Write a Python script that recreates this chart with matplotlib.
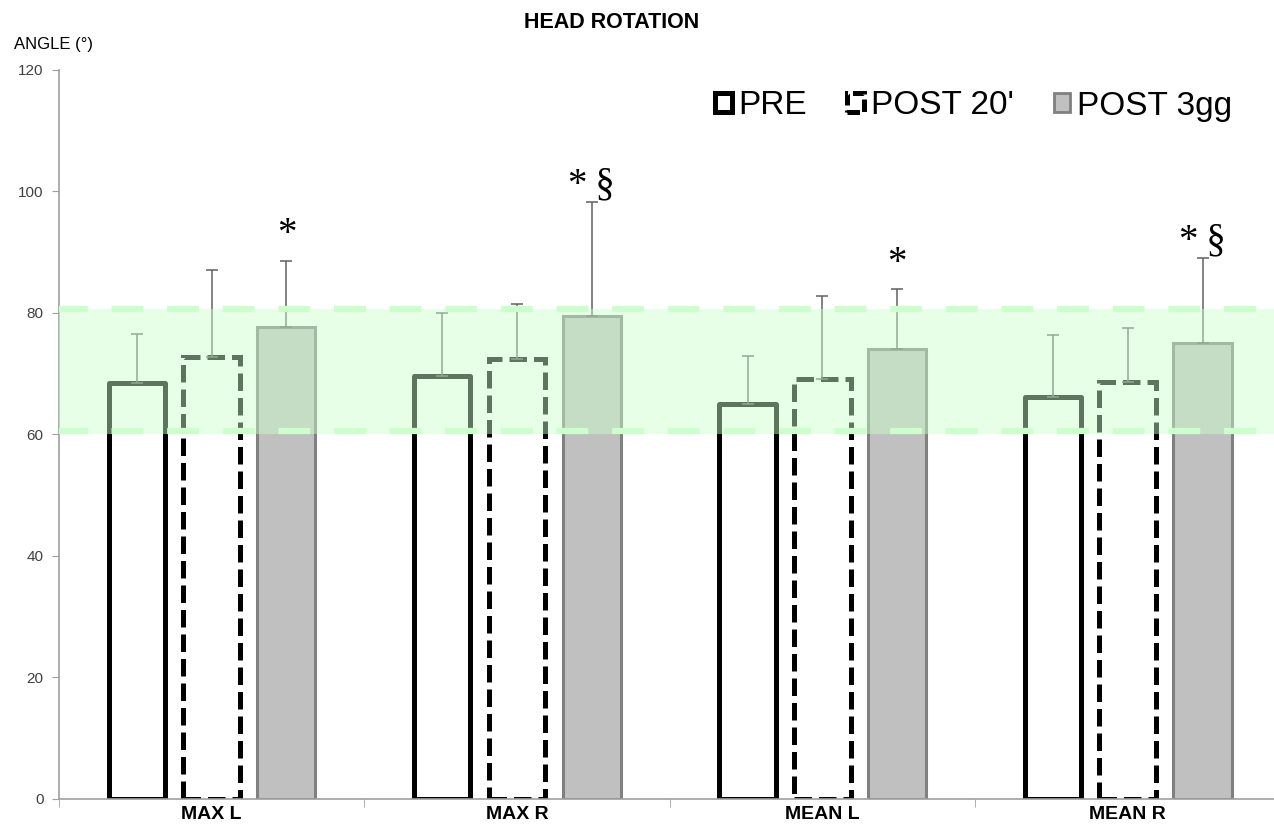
import matplotlib.pyplot as plt
from matplotlib.patches import Patch
import numpy as np

categories = ["MAX L", "MAX R", "MEAN L", "MEAN R"]
pre = [68.5, 69.6, 65.0, 66.1]
post20 = [72.8, 72.4, 69.1, 68.6]
post3gg = [77.7, 79.5, 74.0, 75.0]
pre_err = [8.0, 10.4, 7.9, 10.2]
post20_err = [14.2, 9.1, 13.7, 9.0]
post3gg_err = [10.9, 18.8, 9.9, 14.1]
signif = ["*", "*§", "*", "*§"]
band_lo, band_hi = 60, 80.7

plt.rcParams["font.family"] = ["Liberation Sans", "DejaVu Sans"]

fig = plt.figure(figsize=(12.74, 8.36), dpi=100)
ax = fig.add_axes([0.0463, 0.0443, 0.9587, 0.8720])
x = np.arange(len(categories))
off = 0.245

ax.bar(x - off, pre, width=0.185, facecolor="white", edgecolor="black",
       linewidth=3.6, joinstyle="round", zorder=2)
ax.bar(x, post20, width=0.185, facecolor="white", edgecolor="black",
       linewidth=3.6, linestyle=(0, (3.5, 1.4)), zorder=2)
ax.bar(x + off, post3gg, width=0.19, facecolor="#c0c0c0", edgecolor="#808080",
       linewidth=2.2, zorder=2)

for xs, vals, errs in [(x - off, pre, pre_err), (x, post20, post20_err),
                       (x + off, post3gg, post3gg_err)]:
    ax.errorbar(xs, vals, yerr=[np.zeros(len(errs)), errs], fmt="none",
                ecolor="#606060", elinewidth=1.1, capsize=4, capthick=1.1, zorder=3)

# normal range band
ax.axhspan(band_lo, band_hi, color="#ccffcc", alpha=0.46, lw=0, zorder=4)
for yb in (band_lo + 0.6, band_hi):
    ax.axhline(yb, color="#ccffcc", lw=4.5, linestyle=(0.5, (5.1, 3.8)), zorder=5)

for i, s in enumerate(signif):
    top = post3gg[i] + post3gg_err[i]
    lone = len(s) == 1
    ax.text(x[i] + off, top + (1.2 if lone else -0.3),
            s if lone else s.replace("*", "*\u2009"),
            ha="center", va="bottom", fontsize=28,
            family=["Liberation Serif", "DejaVu Serif"], zorder=6)

ax.set_xlim(-0.5, 3.5)
ax.set_ylim(0, 120)
ax.set_yticks(np.arange(0, 121, 20))
ax.set_xticks(x)
ax.set_xticklabels(categories, fontsize=14, fontweight="bold")
ax.set_xticks(np.arange(-0.5, 3.6, 1), minor=True)
ax.tick_params(axis="x", which="major", length=0, pad=5)
ax.tick_params(axis="x", which="minor", length=6, color="#a0a0a0")
ax.tick_params(axis="y", length=5, color="#a0a0a0", labelcolor="#404040",
               labelsize=11, pad=6)
for side in ("top", "right"):
    ax.spines[side].set_visible(False)
for side in ("left", "bottom"):
    ax.spines[side].set_color("#a0a0a0")
    ax.spines[side].set_linewidth(1.2)

handles = [
    Patch(facecolor="white", edgecolor="black", linewidth=3.6),
    Patch(facecolor="white", edgecolor="black", linewidth=3.6, linestyle=(0, (2.5, 1))),
    Patch(facecolor="#c0c0c0", edgecolor="#808080", linewidth=2),
]
ax.legend(handles, ["PRE", "POST 20'", "POST 3gg"], ncol=3, frameon=False,
          fontsize=24, handlelength=0.5, handleheight=0.5, handletextpad=0.2,
          columnspacing=1.2, loc="center right",
          bbox_to_anchor=(1262 / 1274, 1 - 106 / 836), bbox_transform=fig.transFigure)

fig.text(612 / 1274, 1 - 23 / 836, "HEAD ROTATION", ha="center", va="center",
         fontsize=15.5, fontweight="bold")
fig.text(14 / 1274, 1 - 45 / 836, "ANGLE (°)", ha="left", va="center", fontsize=12)

fig.savefig("out.png", dpi=100)
